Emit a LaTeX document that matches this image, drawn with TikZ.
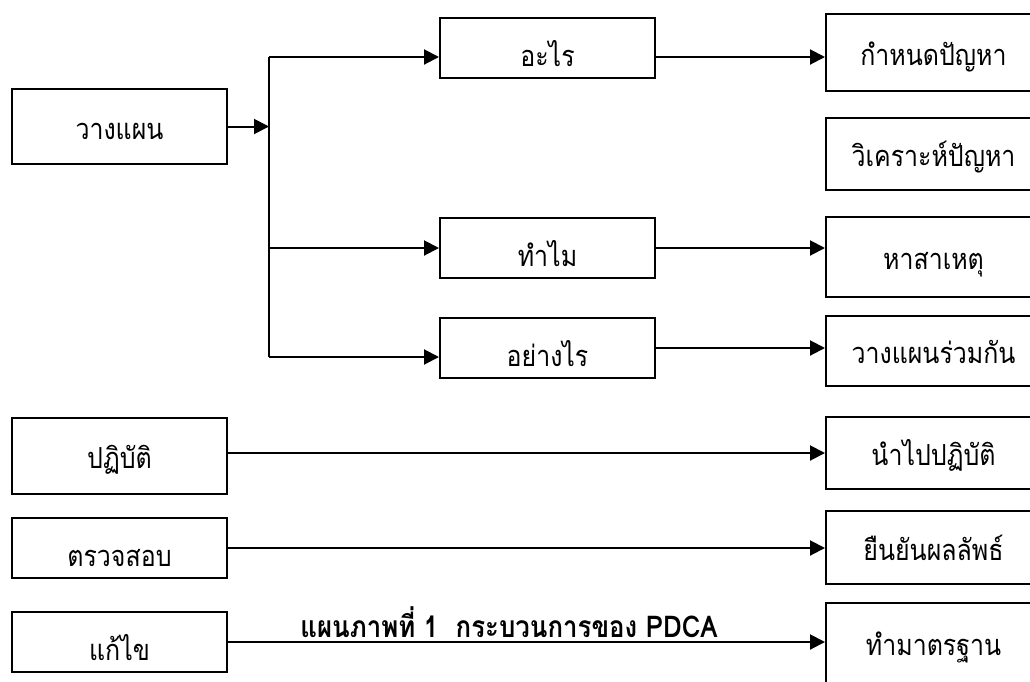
\documentclass[tikz,border=0pt]{standalone}
\usepackage{fontspec}
\newfontfamily\thaifont[Script=Thai, FakeStretch=0.86]{Loma}
\usetikzlibrary{arrows.meta}
\usetikzlibrary{positioning}
\tikzset{
    >={Triangle[length=15pt,width=15pt]},
    box/.style={draw=black, line width=2pt, minimum width=215pt, inner sep=0pt,
        font=\thaifont\fontsize{29}{33}\selectfont, text height=31pt, text depth=6pt},
    slim/.style={box, minimum height=60pt, text height=42pt},
    link/.style={draw=black, line width=2pt, ->},
    trunk/.style={draw=black, line width=2pt},
    caption/.style={font=\thaifont\bfseries\fontsize{30}{34}\selectfont, inner sep=0pt},
}

\begin{document}
\begin{tikzpicture}[x=1pt, y=-1pt]
\useasboundingbox (0,0) rectangle (1030,681);
\clip (0,0) rectangle (1030,681);
% left column: P D C A
\node[box, minimum height=75pt] (plan) at (119.5,126.5) {วางแผน};
\node[box, minimum height=76pt] (do) at (119.5,456) {ปฏิบัติ};
\node[slim] (check) at (119.5,548) {ตรวจสอบ};
\node[slim] (act) at (119.5,642) {แก้ไข};
% middle column
\node[slim] (what) at (547.5,48) {อะไร};
\node[slim] (why) at (547.5,248) {ทำไม};
\node[slim] (how) at (547.5,348) {อย่างไร};
% right column
\node[box, minimum height=77pt] (define) at (933.5,52.5) {กำหนดปัญหา};
\node[box, minimum height=72pt] (analyse) at (933.5,154) {วิเคราะห์ปัญหา};
\node[box, minimum height=80pt] (cause) at (933.5,257) {หาสาเหตุ};
\node[box, minimum height=70pt] (joint) at (933.5,351) {วางแผนร่วมกัน};
\node[box, minimum height=72pt] (apply) at (933.5,453) {นำไปปฏิบัติ};
\node[box, minimum height=73pt] (confirm) at (933.5,547.5) {ยืนยันผลลัพธ์};
\node[box, minimum height=80pt] (standard) at (933.5,643) {ทำมาตรฐาน};
% fork
\coordinate (top) at (269,57);
\coordinate (bot) at (269,357);
\draw[trunk] (top) -- (bot);
\draw[link] (plan.east) -- (plan.east -| top);
\draw[link] (top) -- (what.west |- top);
\draw[link] (why.west -| top) -- (why.west);
\draw[link] (bot) -- (how.west |- bot);
\draw[link] (what.east |- top) -- (define.west |- top);
\draw[link] (why.east) -- (cause.west |- why.east);
\draw[link] (how.east) -- (joint.west |- how.east);
\draw[link] (do.east |- apply.west) -- (apply.west);
\draw[link] (check.east) -- (confirm.west |- check.east);
\draw[link] (act.east) -- (standard.west |- act.east);
\node[caption, anchor=base] (title) at (509,637) {แผนภาพที่ 1\ \ กระบวนการของ PDCA};
\end{tikzpicture}
\end{document}
